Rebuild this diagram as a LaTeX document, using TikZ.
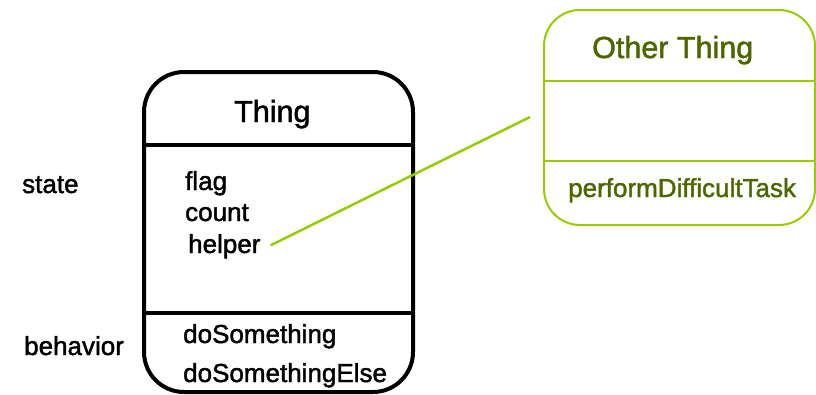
\documentclass[tikz,border=0pt]{standalone}
\usepackage{fontspec}
\setmainfont[FakeBold=1.6]{Liberation Sans}
\usepackage{xcolor}
\usetikzlibrary{positioning}
\definecolor{limeline}{HTML}{99CC00}
\definecolor{olivetext}{HTML}{4F6600}
\tikzset{
    label/.style={font=\fontsize{26}{29}\selectfont, inner sep=0pt, anchor=base west},
    title/.style={font=\fontsize{30.5}{34}\selectfont, inner sep=0pt, anchor=base west}
}

\begin{document}
\begin{tikzpicture}[x=1pt,y=-1pt]
    \useasboundingbox (0,0) rectangle (816,394);

        % draw the Thing box
        \draw[line width=4pt, rounded corners=40pt] (144,72) rectangle (413,392);
        \draw[line width=4pt] (144,145) -- (413,145);
        \draw[line width=4pt] (144,313) -- (413,313);
        \node[title] (thing) at (234,122) {Thing};

        % draw the Other Thing box
        \draw[limeline, line width=2pt, rounded corners=36pt] (544,10) rectangle (815,225);
        \draw[limeline, line width=2pt] (544,81) -- (815,81);
        \draw[limeline, line width=2pt] (544,161) -- (815,161);
        \node[title, text=olivetext] (other) at (592,58) {Other Thing};
        \node[label, text=olivetext] (task) at (568,197) {performDifficultTask};

        % state and behavior
        \foreach \name/\x/\y/\descr in {flag/185/190/flag, count/185/221/count, helper/188/253/helper,
            dosome/183/343/doSomething, doelse/183/382/doSomethingElse,
            state/22/193/state, behavior/24/355/behavior}
        \node[label] (\name) at (\x,\y) {\descr};

        % link to the other thing
        \coordinate (link) at (530,117);
        \draw[limeline, line width=2.5pt] ([xshift=10pt,yshift=1pt]helper.east) -- (link);
\end{tikzpicture}
\end{document}
